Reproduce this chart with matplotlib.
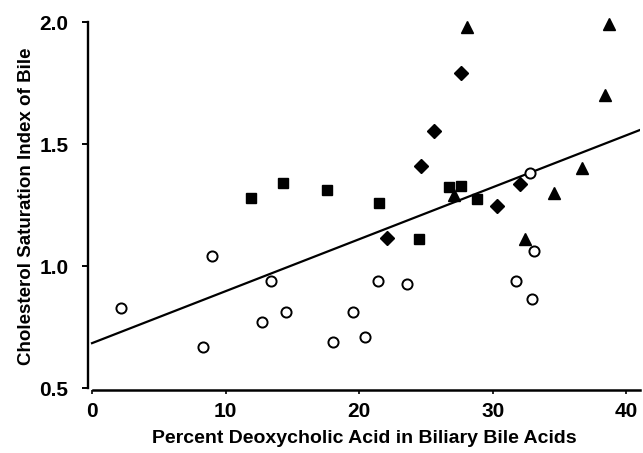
import matplotlib
matplotlib.use("Agg")
import matplotlib.pyplot as plt
import numpy as np

plt.rcParams['font.family'] = ['Liberation Sans', 'DejaVu Sans']

# open circles
circle_x = [2.2, 8.3, 9.0, 12.7, 13.4, 14.5, 18.0, 19.5, 20.4, 21.4, 23.6, 31.7, 32.8, 32.9, 33.1]
circle_y = [0.83, 0.67, 1.04, 0.77, 0.94, 0.81, 0.69, 0.81, 0.71, 0.94, 0.925, 0.94, 1.38, 0.865, 1.06]

# filled squares
square_x = [11.9, 14.3, 17.6, 21.5, 24.5, 26.7, 27.6, 28.8]
square_y = [1.28, 1.34, 1.31, 1.26, 1.11, 1.325, 1.33, 1.275]

# filled diamonds
diamond_x = [22.1, 24.6, 25.6, 27.6, 30.3, 32.0]
diamond_y = [1.115, 1.41, 1.555, 1.79, 1.245, 1.335]

# filled triangles
tri_x = [27.1, 28.1, 32.4, 34.6, 36.7, 38.4, 38.7]
tri_y = [1.29, 1.98, 1.11, 1.30, 1.40, 1.70, 1.99]

# regression line
intercept = 0.684
slope = 0.0213

fig = plt.figure(figsize=(6.43, 4.53), dpi=100)
ax = fig.add_axes([0.1369, 0.138, 0.8581, 0.8134])

xs = np.array([0, 41])
ax.plot(xs, intercept + slope * xs, color='black', lw=1.6, zorder=2)

ax.plot(circle_x, circle_y, 'o', ms=7.3, mfc='white', mec='black', mew=1.4, ls='none', zorder=3)
ax.plot(square_x, square_y, 's', ms=7, color='black', ls='none', zorder=3)
ax.plot(diamond_x, diamond_y, 'D', ms=6.8, color='black', ls='none', zorder=3)
ax.plot(tri_x, tri_y, '^', ms=8, color='black', ls='none', zorder=3, clip_on=False)

ax.set_xlim(-0.3, 41)
ax.set_ylim(0.49, 2.0)
ax.set_xticks([0, 10, 20, 30, 40])
ax.set_yticks([0.5, 1.0, 1.5, 2.0])
ax.set_yticklabels(['0.5', '1.0', '1.5', '2.0'])

for s in ['top', 'right']:
    ax.spines[s].set_visible(False)
ax.spines['left'].set_bounds(0.5, 2.0)
ax.spines['left'].set_linewidth(1.7)
ax.spines['bottom'].set_linewidth(1.8)
ax.spines['bottom'].set_bounds(0.1, 41)

ax.tick_params(axis='y', direction='out', length=4, width=1.4, labelsize=15, pad=10)
ax.tick_params(axis='x', direction='out', length=3, width=1.2, labelsize=15, pad=5)
for lab in ax.get_xticklabels() + ax.get_yticklabels():
    lab.set_fontweight('bold')

ax.set_xlabel('Percent Deoxycholic Acid in Biliary Bile Acids', fontsize=14, fontweight='bold', labelpad=7)
ax.set_ylabel('Cholesterol Saturation Index of Bile', fontsize=13.5, fontweight='bold', labelpad=3)

fig.savefig('out.png', dpi=100)
